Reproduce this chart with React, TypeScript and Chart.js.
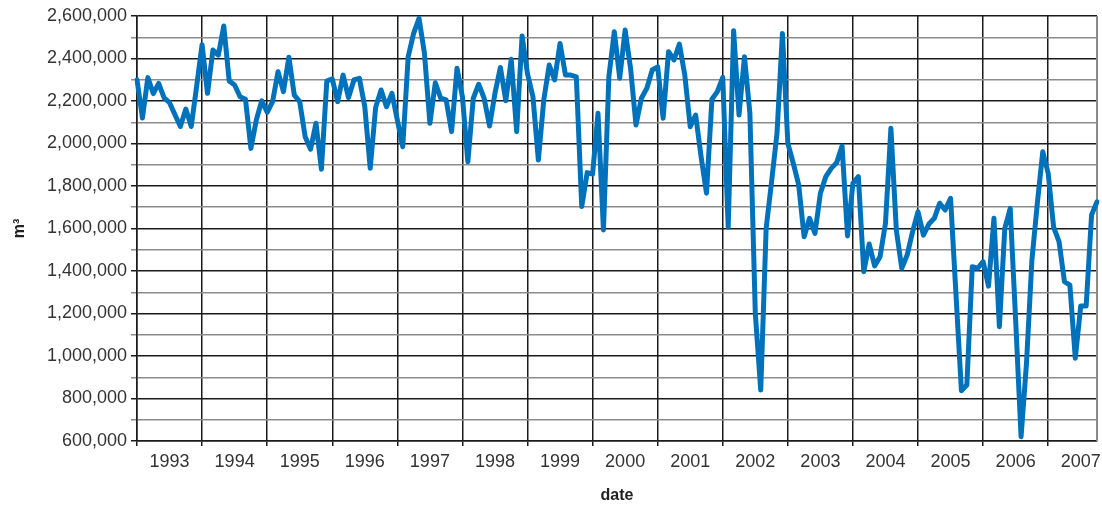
import React, { useEffect, useRef } from 'react';
import { Chart, registerables } from 'chart.js';

Chart.register(...registerables);

const startYear = 1993;

const yearLabels = [
  '1993', '1994', '1995', '1996', '1997', '1998', '1999', '2000',
  '2001', '2002', '2003', '2004', '2005', '2006', '2007',
];

// Monthly volume (m³), Jan 1993 .. Oct 2007
const volumes = [
  2300000, 2120000, 2310000, 2235000, 2283000, 2215000, 2192000, 2135000, 2080000, 2162000, 2080000, 2270000,
  2465000, 2236000, 2440000, 2416000, 2553000, 2294000, 2275000, 2220000, 2208000, 1977000, 2111000, 2201000,
  2147000, 2197000, 2338000, 2244000, 2406000, 2228000, 2197000, 2032000, 1973000, 2095000, 1879000, 2294000,
  2304000, 2197000, 2322000, 2216000, 2299000, 2307000, 2173000, 1883000, 2170000, 2252000, 2173000, 2236000,
  2111000, 1985000, 2408000, 2518000, 2589000, 2424000, 2095000, 2286000, 2213000, 2205000, 2056000, 2354000,
  2220000, 1914000, 2213000, 2279000, 2213000, 2082000, 2236000, 2358000, 2201000, 2396000, 2056000, 2506000,
  2328000, 2220000, 1922000, 2205000, 2369000, 2299000, 2471000, 2322000, 2322000, 2314000, 1703000, 1863000,
  1856000, 2142000, 1593000, 2314000, 2526000, 2307000, 2534000, 2354000, 2087000, 2213000, 2260000, 2346000,
  2361000, 2119000, 2432000, 2393000, 2468000, 2322000, 2079000, 2134000, 1938000, 1766000, 2208000, 2244000,
  2311000, 1606000, 2531000, 2134000, 2408000, 2142000, 1201000, 840000, 1601000, 1820000, 2048000, 2518000,
  2001000, 1907000, 1805000, 1561000, 1648000, 1577000, 1766000, 1844000, 1883000, 1910000, 1988000, 1565000,
  1813000, 1844000, 1397000, 1527000, 1424000, 1467000, 1624000, 2072000, 1593000, 1413000, 1475000, 1585000,
  1679000, 1569000, 1621000, 1648000, 1719000, 1687000, 1742000, 1290000, 837000, 863000, 1420000, 1413000,
  1444000, 1329000, 1648000, 1138000, 1601000, 1695000, 1169000, 620000, 966000, 1452000, 1719000, 1961000,
  1860000, 1606000, 1538000, 1350000, 1334000, 989000, 1235000, 1235000, 1664000, 1726000,
];

const monthLabels = volumes.map(
  (_, i) => `${startYear + Math.floor(i / 12)}-${String((i % 12) + 1).padStart(2, '0')}`
);

const FONT = '"Liberation Sans", Arial, Helvetica, sans-serif';

export default function App() {
  const ref = useRef<HTMLCanvasElement>(null);

  useEffect(() => {
    if (!ref.current) return;
    const rightBorder = {
      id: 'rightBorder',
      beforeDatasetsDraw(chart: any) {
        const { ctx, chartArea } = chart;
        ctx.save();
        ctx.strokeStyle = '#8a8a8a';
        ctx.lineWidth = 2;
        ctx.beginPath();
        ctx.moveTo(chartArea.right, chartArea.top);
        ctx.lineTo(chartArea.right, chartArea.bottom);
        ctx.stroke();
        ctx.restore();
      },
    };

    const chart = new Chart(ref.current, {
      type: 'line',
      data: {
        labels: monthLabels,
        datasets: [
          {
            data: volumes,
            borderColor: '#0072BC',
            borderWidth: 5,
            pointRadius: 0,
            tension: 0,
            fill: false,
            borderJoinStyle: 'round',
            borderCapStyle: 'round',
          },
        ],
      },
      options: {
        animation: false,
        responsive: false,
        maintainAspectRatio: false,
        layout: { padding: { left: 0, right: 5, top: 16, bottom: 0 } },
        plugins: { legend: { display: false }, tooltip: { enabled: false } },
        scales: {
          x: {
            type: 'category',
            offset: false,
            grid: {
              color: (c: any) => (c.index % 12 === 0 ? '#1a1a1a' : 'rgba(0,0,0,0)'),
              lineWidth: 1.5,
              tickLength: 5,
            },
            border: { color: '#1a1a1a', width: 1.5 },
            ticks: {
              autoSkip: false,
              maxRotation: 0,
              minRotation: 0,
              padding: 5,
              color: '#333',
              font: { family: FONT, size: 18 },
              callback: (_v: any, i: number) => (i % 12 === 6 ? yearLabels[(i - 6) / 12] : ''),
            },
            title: {
              display: true,
              text: 'date',
              color: '#222',
              font: { family: FONT, size: 16, weight: 'bold' },
              padding: { top: 0, bottom: 4 },
            },
            afterFit: (s: any) => {
              s.height = 68;
            },
          },
          y: {
            min: 600000,
            max: 2600000,
            grid: {
              color: (c: any) =>
                c.tick && c.tick.value % 200000 === 0 ? '#1a1a1a' : '#8c8c8c',
              lineWidth: 1.5,
              tickLength: 6,
            },
            border: { color: '#1a1a1a', width: 1.5 },
            ticks: {
              stepSize: 100000,
              autoSkip: false,
              padding: 4,
              color: '#333',
              font: { family: FONT, size: 18 },
              callback: (v: any) =>
                Number(v) % 200000 === 0 ? Number(v).toLocaleString('en-US') : '',
            },
            title: {
              display: true,
              text: 'm³',
              color: '#222',
              font: { family: FONT, size: 16, weight: 'bold' },
              padding: { top: 10, bottom: 0 },
            },
            afterFit: (s: any) => {
              s.width = 137;
            },
          },
        },
      },
      plugins: [rightBorder],
    });
    return () => chart.destroy();
  }, []);

  return (
    <div style={{ position: 'fixed', left: 0, top: 0, width: 1102, height: 509, background: '#fff' }}>
      <canvas ref={ref} width={1102} height={509} style={{ display: 'block', width: 1102, height: 509 }} />
    </div>
  );
}
